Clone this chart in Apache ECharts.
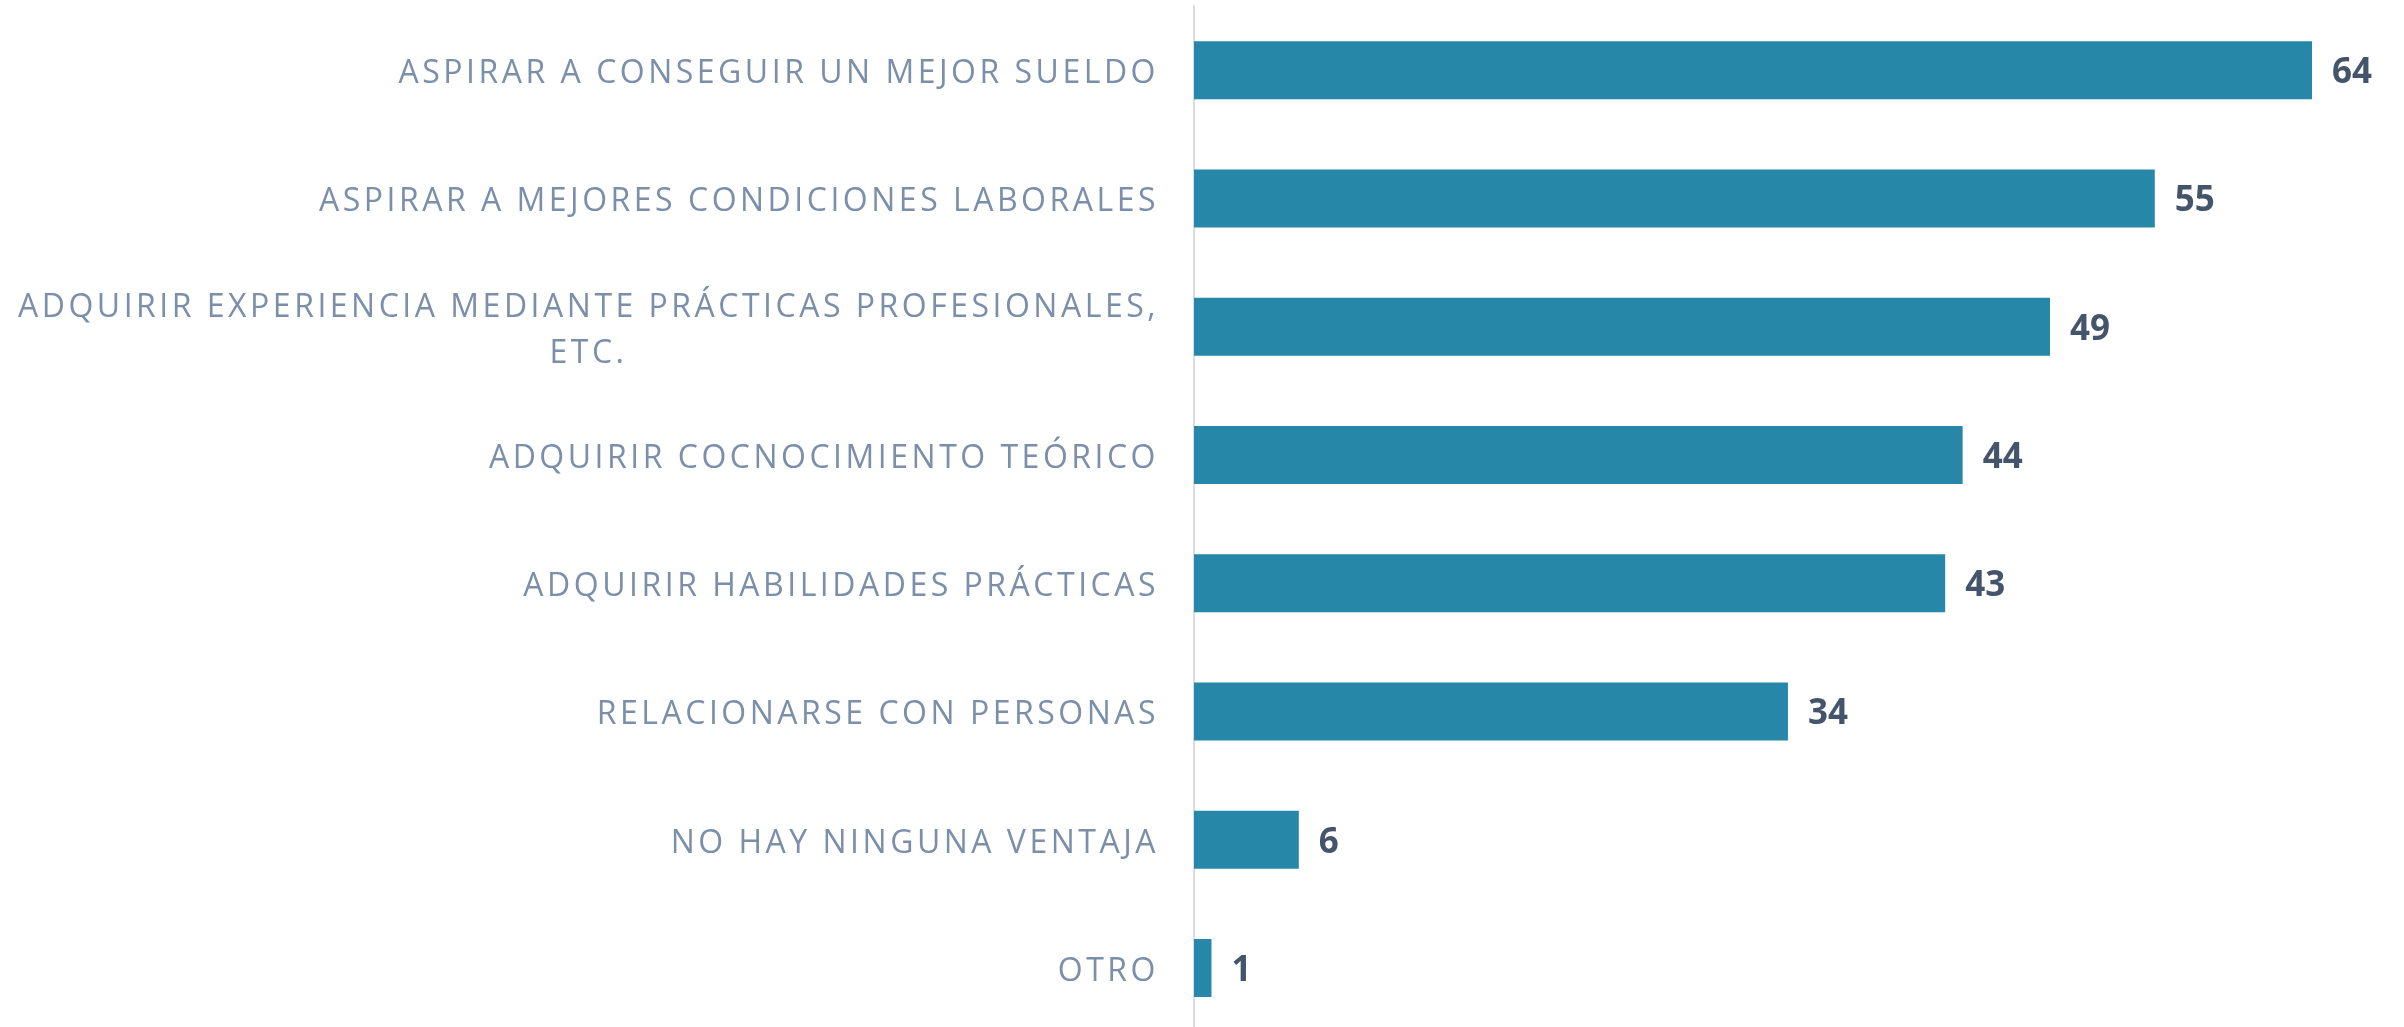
<!DOCTYPE html>
<html>
<head>
<meta charset="utf-8">
<script src="https://cdn.jsdelivr.net/npm/echarts@6/dist/echarts.min.js"></script>
<style>
  html, body { margin: 0; padding: 0; background: #fff; }
  #chart { width: 2404px; height: 1027px; }
</style>
</head>
<body>
<div id="chart"></div>
<script>
// categorias (de arriba a abajo)
var categorias = [
    'ASPIRAR A CONSEGUIR UN MEJOR SUELDO',
    'ASPIRAR A MEJORES CONDICIONES LABORALES',
    'ADQUIRIR EXPERIENCIA MEDIANTE PRÁCTICAS PROFESIONALES,\nETC.',
    'ADQUIRIR COCNOCIMIENTO TEÓRICO',
    'ADQUIRIR HABILIDADES PRÁCTICAS',
    'RELACIONARSE CON PERSONAS',
    'NO HAY NINGUNA VENTAJA',
    'OTRO'
];
var valores = [64, 55, 49, 44, 43, 34, 6, 1];

// espaciado entre letras para las etiquetas de categoria (solo fuente Open Sans)
(function () {
    var proto = CanvasRenderingContext2D.prototype;
    var desc = Object.getOwnPropertyDescriptor(proto, 'font');
    if (!desc || !('letterSpacing' in proto)) return;
    Object.defineProperty(proto, 'font', {
        get: desc.get,
        set: function (f) {
            desc.set.call(this, f);
            this.letterSpacing = f.indexOf('Open Sans') >= 0 ? '3.5px' : '0px';
        },
        configurable: true
    });
})();

var myChart = echarts.init(document.getElementById('chart'));
var option = {
    animation: false,
    grid: { left: 1194, width: 1118, top: 6, height: 1026, outerBoundsMode: 'none', containLabel: false },
    xAxis: {
        type: 'value',
        min: 0,
        max: 64,
        show: false
    },
    yAxis: {
        type: 'category',
        inverse: true,
        data: categorias,
        axisTick: { show: false },
        axisLine: { show: true, lineStyle: { color: '#d9dde3', width: 2 } },
        axisLabel: {
            margin: 35,
            padding: [8, 0, 0, 0],
            color: '#7b8fab',
            fontFamily: 'Open Sans',
            fontSize: 32,
            lineHeight: 46,
            // cada linea centrada dentro del bloque
            formatter: function (v) {
                return v.split('\n').map(function (l) { return '{c|' + l + '}'; }).join('\n');
            },
            rich: {
                c: { align: 'center', color: '#7b8fab', fontFamily: 'Open Sans', fontSize: 32, lineHeight: 46 }
            }
        }
    },
    series: [{
        type: 'bar',
        data: valores,
        barWidth: 58,
        itemStyle: { color: '#2687a8' },
        label: {
            show: true,
            position: 'right',
            distance: 20,
            offset: [0, 3],
            color: '#44546a',
            fontFamily: 'Noto Sans',
            fontWeight: 'bold',
            fontSize: 35
        }
    }]
};
myChart.setOption(option);
</script>
</body>
</html>
